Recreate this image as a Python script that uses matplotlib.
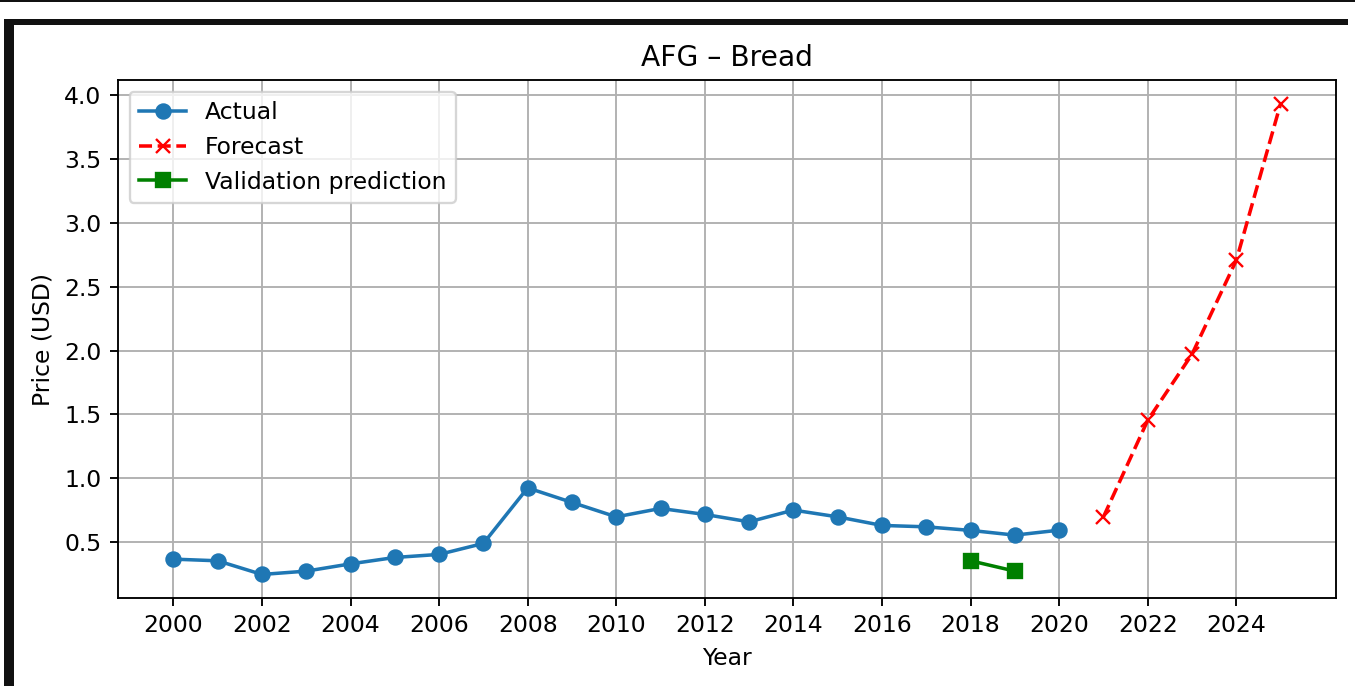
import matplotlib
matplotlib.use("Agg")
import matplotlib.pyplot as plt
from matplotlib.patches import Rectangle

# Observed bread prices (USD)
years_actual = [2000, 2001, 2002, 2003, 2004, 2005, 2006, 2007, 2008, 2009, 2010,
                2011, 2012, 2013, 2014, 2015, 2016, 2017, 2018, 2019, 2020]
price_actual = [0.367, 0.354, 0.247, 0.273, 0.330, 0.380, 0.404, 0.49, 0.925, 0.811, 0.698,
                0.764, 0.717, 0.659, 0.751, 0.698, 0.631, 0.620, 0.592, 0.555, 0.594]

# Forecast
years_forecast = [2021, 2022, 2023, 2024, 2025]
price_forecast = [0.698, 1.455, 1.972, 2.708, 3.935]

# Hold-out validation predictions
years_valid = [2018, 2019]
price_valid = [0.354, 0.273]

xticks = list(range(2000, 2025, 2))

W, H, DPI = 1355, 686, 169
fig = plt.figure(figsize=(W / DPI, H / DPI), dpi=DPI)
ax = fig.add_axes([118 / W, 1 - 598 / H, (1336 - 118) / W, (598 - 80) / H])

ax.plot(years_actual, price_actual, marker="o", color="#1f77b4", label="Actual")
ax.plot(years_forecast, price_forecast, marker="x", linestyle="--", color="red", label="Forecast")
ax.plot(years_valid, price_valid, marker="s", color="green", label="Validation prediction")

ax.set_xticks(xticks)
ax.set_title("AFG – Bread", fontsize=12)
ax.set_xlabel("Year")
ax.set_ylabel("Price (USD)")
ax.grid(True)
ax.legend(loc="upper left")

# Black border frame around the figure
def px_rect(x0, y0, x1, y1):
    fig.add_artist(Rectangle((x0 / W, 1 - y1 / H), (x1 - x0) / W, (y1 - y0) / H,
                             transform=fig.transFigure, facecolor="#111111",
                             edgecolor="none", zorder=10))

px_rect(0, 0, W, 2.3)
px_rect(4, 19, 1348, 25)
px_rect(4, 19, 14, H)

fig.savefig("out.png", dpi=DPI)
